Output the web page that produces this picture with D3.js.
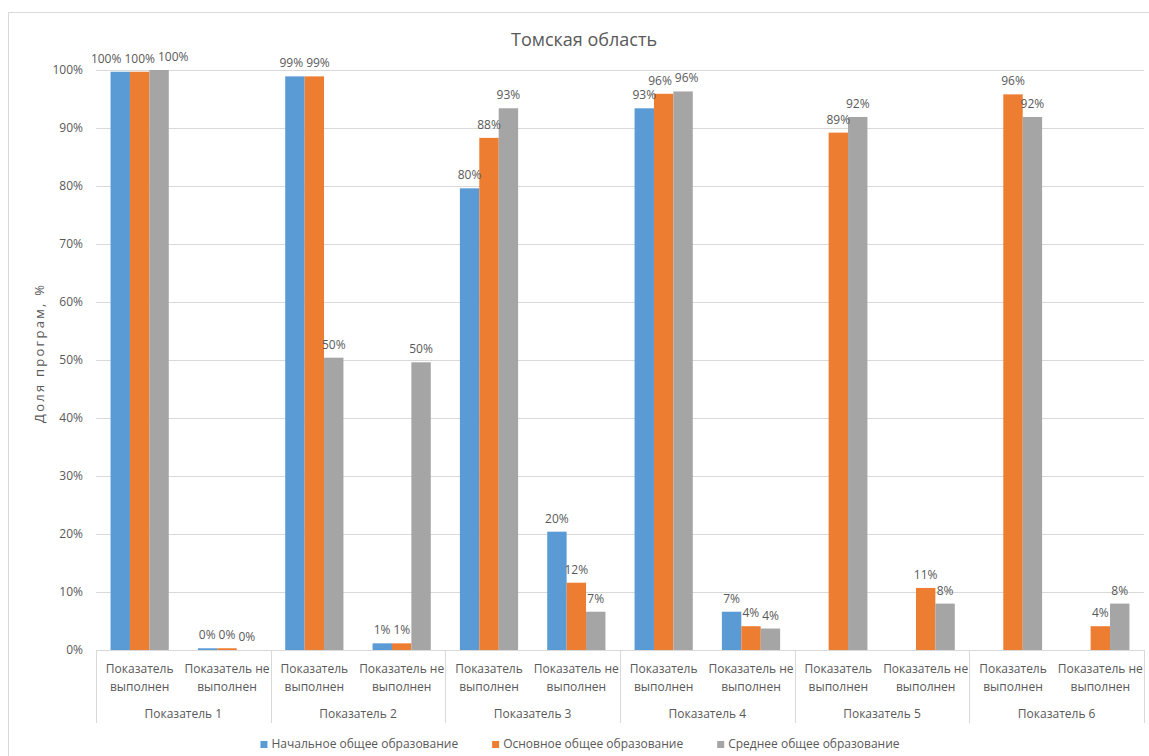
<!DOCTYPE html>
<html><head><meta charset="utf-8">
<script src="https://cdn.jsdelivr.net/npm/d3@7"></script>
<style>
html,body{margin:0;padding:0;background:#fff;}
svg{display:block;font-family:"Open Sans",sans-serif;}
</style></head>
<body><svg id="chart" width="1149" height="756"></svg>
<script>
const title = "Томская область";
const yTitle = "Доля програм, %";
const groups = ["Показатель 1","Показатель 2","Показатель 3","Показатель 4","Показатель 5","Показатель 6"];
const subCats = [["Показатель","выполнен"],["Показатель не","выполнен"]];
const seriesNames = ["Начальное общее образование","Основное общее образование","Среднее общее образование"];
const seriesColors = ["#5B9BD5","#ED7D31","#A5A5A5"];
// values per category (12 = 6 groups x 2 sub-categories), percent
const nachalnoe = [99.7, 0.3, 98.9, 1.15, 79.6, 20.4, 93.4, 6.6, null, null, null, null];
const osnovnoe  = [99.7, 0.3, 98.9, 1.15, 88.3, 11.6, 95.9, 4.1, 89.2, 10.7, 95.8, 4.1];
const srednee   = [100, 0, 50.4, 49.6, 93.4, 6.6, 96.3, 3.7, 91.9, 8.0, 91.9, 8.0];
const yTicks = [0,10,20,30,40,50,60,70,80,90,100];

(function(){
const series = [nachalnoe, osnovnoe, srednee];
const cats = [];
groups.forEach((g,gi)=>subCats.forEach((s,si)=>cats.push({id:gi*2+si, group:g, lines:s})));

const svg = d3.select("#chart");
const pLeft = 96, pRight = 1144, pTop = 70, pBottom = 650;
const textColor = "#595959", gridColor = "#d9d9d9";

svg.append("rect").attr("x",8.5).attr("y",12.5).attr("width",1160).attr("height",760)
  .attr("fill","#fff").attr("stroke",gridColor).attr("stroke-width",1);

const y = d3.scaleLinear().domain([0,100]).range([pBottom, pTop]);
const x = d3.scaleBand().domain(cats.map(c=>c.id)).range([pLeft,pRight]).padding(0);
const xs = d3.scaleBand().domain([0,1,2]).range([0,x.step()]).paddingInner(0).paddingOuter(0.75);
const xg = d3.scaleBand().domain(groups).range([pLeft,pRight]).padding(0);

const yAxis = d3.axisLeft(y).tickValues(yTicks).tickFormat(d=>d+"%").tickSize(-(pRight-pLeft)).tickPadding(13);
const ga = svg.append("g").attr("transform",`translate(${pLeft},0)`).call(yAxis);
ga.select(".domain").remove();
ga.selectAll(".tick line").attr("stroke",gridColor).attr("shape-rendering","crispEdges");
ga.selectAll(".tick text").attr("fill",textColor).style("font-size","12px").style("font-family","'Open Sans',sans-serif");

const labelsByCat = cats.map(()=>[]);
const barG = svg.append("g"), labG = svg.append("g");
series.forEach((vals,si)=>{
  vals.forEach((v,ci)=>{
    if(v===null) return;
    const bx = x(ci)+xs(si);
    barG.append("rect").attr("x",bx).attr("width",xs.bandwidth())
      .attr("y",y(v)).attr("height",y(0)-y(v)).attr("fill",seriesColors[si]);
    const t = labG.append("text").attr("x",bx+xs.bandwidth()/2).attr("y",y(v)-9)
      .attr("text-anchor","middle").attr("fill",textColor).style("font-size","12px")
      .text(Math.round(v)+"%");
    labelsByCat[ci].push({t, x0:bx+xs.bandwidth()/2, x:bx+xs.bandwidth()/2, y:y(v)-9, w:t.node().getComputedTextLength()});
  });
});
// resolve overlapping labels within a category (spread them around their original center)
const lgap = 3;
labelsByCat.forEach(list=>{
  let chain = [];
  const flush = ()=>{
    if(chain.length>1){
      const shift = d3.mean(chain,d=>d.x0) - d3.mean(chain,d=>d.x);
      chain.forEach(d=>d.x += shift);
    }
    chain = [];
  };
  list.forEach((d,i)=>{
    if(i===0){chain=[d];return;}
    const p = list[i-1];
    if(Math.abs(p.y-d.y)<12 && (d.x - d.w/2) < (p.x + p.w/2 + lgap)){
      d.x = p.x + p.w/2 + lgap + d.w/2;
      chain.push(d);
    } else { flush(); chain=[d]; }
  });
  flush();
  list.forEach(d=>d.t.attr("x",d.x));
});

svg.append("line").attr("x1",pLeft).attr("x2",pRight).attr("y1",pBottom+0.5).attr("y2",pBottom+0.5)
  .attr("stroke",gridColor);
const seps = [pLeft].concat(groups.map(g=>xg(g)+xg.bandwidth()));
seps.forEach(sx=>{
  svg.append("line").attr("x1",Math.round(sx)+0.5).attr("x2",Math.round(sx)+0.5)
    .attr("y1",pBottom).attr("y2",723).attr("stroke",gridColor);
});
cats.forEach(c=>{
  const t = svg.append("text").attr("text-anchor","middle").attr("fill",textColor).style("font-size","12px");
  c.lines.forEach((ln,i)=>{
    t.append("tspan").attr("x",x(c.id)+x.bandwidth()/2).attr("y",673+i*18).text(ln);
  });
});
groups.forEach(g=>{
  svg.append("text").attr("x",xg(g)+xg.bandwidth()/2).attr("y",718).attr("text-anchor","middle")
    .attr("fill",textColor).style("font-size","12px").text(g);
});

svg.append("text").attr("x",584).attr("y",46).attr("text-anchor","middle").attr("fill",textColor)
  .style("font-size","18px").text(title);
svg.append("text").attr("transform","translate(44,354) rotate(-90)").attr("text-anchor","middle")
  .attr("fill",textColor).style("font-size","13px")
  .attr("textLength",138).attr("lengthAdjust","spacing").text(yTitle);

const lg = svg.append("g");
const items = seriesNames.map((n,i)=>{
  const it = lg.append("g");
  it.append("rect").attr("width",7).attr("height",7).attr("y",-7).attr("fill",seriesColors[i]);
  const t = it.append("text").attr("x",11).attr("y",0).attr("fill",textColor).style("font-size","12px").text(n);
  return {g:it, w:11+t.node().getComputedTextLength()};
});
const gap = 34;
const total = d3.sum(items,d=>d.w)+gap*(items.length-1);
let cx = 580 - total/2;
items.forEach(it=>{ it.g.attr("transform",`translate(${cx},748)`); cx += it.w+gap; });
})();
</script></body></html>
